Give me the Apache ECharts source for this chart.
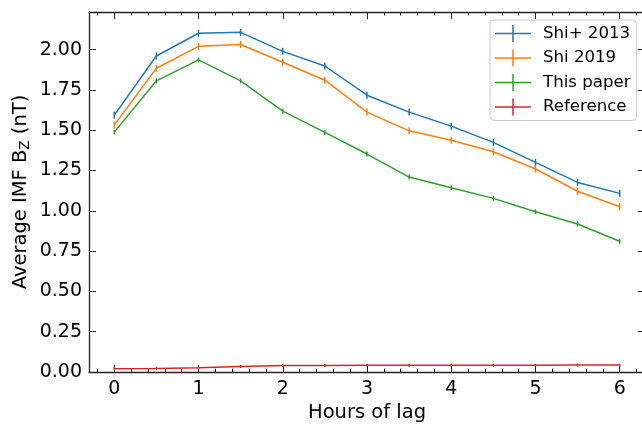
<!DOCTYPE html>
<html>
<head>
<meta charset="utf-8">
<script src="https://cdn.jsdelivr.net/npm/echarts@6/dist/echarts.min.js"></script>
<style>html,body{margin:0;padding:0;background:#fff}#c{width:642px;height:424px}</style>
</head>
<body>
<div id="c"></div>
<script>
const lags = [0, 0.5, 1, 1.5, 2, 2.5, 3, 3.5, 4, 4.5, 5, 5.5, 6];
const shi2013 = [1.593, 1.960, 2.101, 2.107, 1.989, 1.898, 1.717, 1.612, 1.525, 1.424, 1.300, 1.176, 1.108];
const shi2019 = [1.531, 1.884, 2.020, 2.031, 1.921, 1.810, 1.612, 1.496, 1.437, 1.366, 1.259, 1.121, 1.025];
const thisPaper = [1.488, 1.806, 1.936, 1.806, 1.618, 1.486, 1.352, 1.209, 1.143, 1.077, 0.994, 0.918, 0.811];
const reference = [0.020, 0.022, 0.026, 0.034, 0.040, 0.041, 0.042, 0.042, 0.042, 0.042, 0.042, 0.043, 0.043];
const seriesNames = ['Shi+ 2013', 'Shi 2019', 'This paper', 'Reference'];
const seriesValues = [shi2013, shi2019, thisPaper, reference];
const colors = ['#1f77b4', '#ff7f0e', '#2ca02c', '#d62728'];
const barH = [7, 7, 5, 3];

const FONT = 'DejaVu Sans';
const spine = {show: true, onZero: false, lineStyle: {color: '#222', width: 1.3}};
const tickStyle = {color: '#222', width: 1};

// layout: main data range -0.3..6.3 over the plot box
const L = 89, R = 645, T = 12, B = 52, W = 642;
const XMIN = -0.3, XMAX = 6.3;
const ppu = (R - L) / (XMAX - XMIN);
function gridFor(a, b) {
  const l = L + (a - XMIN) * ppu, r = L + (b - XMIN) * ppu;
  return {left: l, right: W - r, top: T, bottom: B, containLabel: false, outerBoundsMode: 'none'};
}

function tickX(gridIndex, pos, min, max, interval, len, labels) {
  return {
    type: 'value', gridIndex, position: pos, min, max, interval, offset: 0,
    axisLine: {show: false, onZero: false},
    splitLine: {show: false},
    axisTick: {show: true, inside: true, length: len, lineStyle: tickStyle},
    axisLabel: labels ? {show: true, fontFamily: FONT, fontSize: 19, color: '#000', margin: 8} : {show: false},
    name: labels ? 'Hours of lag' : '',
    nameLocation: 'middle', nameGap: 31, nameMoveOverlap: false,
    nameTextStyle: {fontFamily: FONT, fontSize: 19.5, color: '#000'}
  };
}
function mainX(pos) {
  return {
    type: 'value', gridIndex: 0, position: pos, min: XMIN, max: XMAX, offset: 0,
    axisLine: spine, splitLine: {show: false},
    axisTick: {show: false}, axisLabel: {show: false}
  };
}
function hiddenY(gridIndex) {
  return {type: 'value', gridIndex, min: 0, max: 1, show: false};
}

function yAx(pos, labels) {
  const ax = {
    type: 'value', gridIndex: 0, position: pos, min: 0, max: 2.233, interval: 0.25, offset: 0,
    axisLine: spine, splitLine: {show: false},
    axisTick: {show: true, inside: true, length: 7, lineStyle: tickStyle},
    axisLabel: labels ? {showMaxLabel: false, formatter: v => v.toFixed(2), fontFamily: FONT, fontSize: 19, color: '#000', margin: 7} : {show: false}
  };
  if (labels) {
    Object.assign(ax, {
      name: '{a|Average IMF B}{s|Z}{a| (nT)}',
      nameLocation: 'middle', nameGap: 57, nameRotate: 90, nameMoveOverlap: false,
      nameTextStyle: {
        fontFamily: FONT, fontSize: 19.5, color: '#000',
        rich: {
          a: {fontFamily: FONT, fontSize: 19.5, color: '#000'},
          s: {fontFamily: FONT, fontSize: 13.5, color: '#000', padding: [8, 0, 0, 0]}
        }
      }
    });
  }
  return ax;
}

const plus = 'path://M0,7.75h36v1.5h-36z M17.25,0h1.5v17h-1.5z';

const option = {
  animation: false,
  backgroundColor: '#fff',
  grid: [
    {left: L, right: W - R, top: T, bottom: B, containLabel: false, outerBoundsMode: 'none'},
    gridFor(0, 6),
    gridFor(-0.2, 6.2)
  ],
  xAxis: [
    mainX('bottom'), mainX('top'),
    tickX(1, 'bottom', 0, 6, 1, 7, true), tickX(1, 'top', 0, 6, 1, 7, false),
    tickX(2, 'bottom', -0.2, 6.2, 0.2, 3.5, false), tickX(2, 'top', -0.2, 6.2, 0.2, 3.5, false)
  ],
  yAxis: [yAx('left', true), yAx('right', false), hiddenY(1), hiddenY(2)],
  legend: {
    orient: 'vertical', left: 490, top: 20,
    data: seriesNames.map(n => ({name: n, icon: plus})),
    itemWidth: 36, itemHeight: 17, itemGap: 7.5,
    padding: [5, 6, 5, 5],
    backgroundColor: 'rgba(255,255,255,0.8)',
    borderColor: '#ccc', borderWidth: 1, borderRadius: 4,
    textStyle: {fontFamily: FONT, fontSize: 16.6, color: '#000', padding: [0, 0, 0, 7]}
  },
  series: seriesNames.map((n, i) => ({
    name: n, type: 'line',
    data: lags.map((x, j) => [x, seriesValues[i][j]]),
    xAxisIndex: 0, yAxisIndex: 0,
    color: colors[i],
    lineStyle: {width: 1.5, color: colors[i]},
    itemStyle: {color: colors[i]},
    symbol: 'rect', symbolSize: [1.5, barH[i]],
    showSymbol: true
  }))
};

const chart = echarts.init(document.getElementById('c'), null, {renderer: 'canvas'});
chart.setOption(option);
</script>
</body>
</html>
